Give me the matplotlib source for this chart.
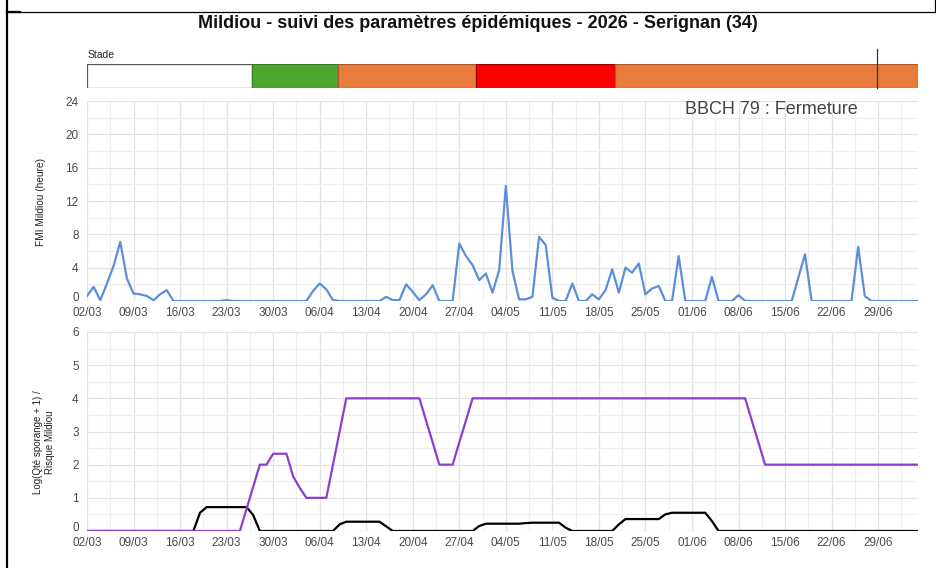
import datetime as dt
import numpy as np
import matplotlib
matplotlib.use("Agg")
import matplotlib.pyplot as plt
from matplotlib.lines import Line2D
from matplotlib.patches import Rectangle

plt.rcParams['font.family'] = ['Liberation Sans', 'DejaVu Sans']

W, H = 936, 568

debut = dt.date(2026, 3, 2)

# FMI Mildiou (heure), un point par jour depuis le 02/03
fmi = [0.6, 1.7, 0.1, 2.1, 4.2, 7.1, 2.7, 0.9, 0.8, 0.6, 0.1, 0.8, 1.3, 0,
       0, 0, 0, 0, 0, 0, 0, 0.1, 0, 0, 0, 0, 0, 0, 0, 0, 0, 0, 0, 0,
       1.2, 2.1, 1.4, 0.1, 0, 0, 0, 0, 0, 0, 0,
       0.5, 0.1, 0.1, 2.0, 1.1, 0.1, 0.8, 1.9, 0, 0, 0,
       6.9, 5.4, 4.3, 2.5, 3.3, 1.0, 3.7, 13.8, 3.6, 0.2, 0.2, 0.5, 7.7, 6.7, 0.4,
       0, 0, 2.1, 0, 0, 0.8, 0.2, 1.3, 3.8, 1.0,
       4.0, 3.4, 4.5, 0.8, 1.5, 1.8, 0, 0, 5.4, 0,
       0, 0, 0, 2.9, 0, 0, 0, 0.7, 0,
       0, 0, 0, 0, 0, 0, 0,
       2.8, 5.6, 0, 0, 0, 0, 0, 0, 0, 6.5, 0.6,
       0, 0, 0, 0, 0, 0, 0, 0]

# Log(Qte sporange + 1)
sporange = [0] * 17 + [0.55] + [0.72] * 7 + [0.48] + [0] * 12 + \
    [0.2] + [0.28] * 6 + [0.14] + [0] * 13 + \
    [0.15] + [0.22] * 6 + [0.24] + [0.25] * 5 + [0.1] + [0] * 7 + \
    [0.2] + [0.36] * 6 + [0.5] + [0.55] * 6 + [0.3] + [0] * 31

# Risque Mildiou
risque = [0] * 24 + [0.67, 1.33, 2.0, 2.0, 2.33, 2.33, 2.33, 1.65, 1.3] + \
    [1.0] * 4 + [2.0, 3.0] + [4.0] * 12 + [3.33, 2.67] + [2.0] * 3 + \
    [2.67, 3.33] + [4.0] * 42 + [3.33, 2.67] + [2.0] * 24

jours = np.arange(len(fmi))
fin = len(fmi) - 1

# stades phenologiques (jours depuis le 02/03)
stade_debut = [0, 24.8, 37.7, 58.5, 79.4]
stade_fin = [24.8, 37.7, 58.5, 79.4, 125]
stade_couleurs = ['#ffffff', '#4ea72e', '#e97c3b', '#ff0000', '#e97c3b']
stade_bords = ['#555555', '#3b7d24', '#a9592b', '#990000', '#a9592b']
jour_actuel = 118.8

semaines = list(range(0, 120, 7))
semaines_labels = [(debut + dt.timedelta(days=d)).strftime('%d/%m') for d in semaines]


def box(l, t, r, b):
    return [l / W, 1 - b / H, (r - l) / W, (b - t) / H]


def style(ax, ymax, ystep, yminor):
    ax.set_xlim(0, fin)
    ax.set_ylim(0, ymax)
    ax.set_xticks(semaines)
    ax.set_xticklabels(semaines_labels)
    ax.set_xticks(np.arange(3.5, fin, 7), minor=True)
    yt = np.arange(0, ymax + ystep / 2, ystep)
    ax.set_yticks(yt)
    ax.set_yticklabels(['%g' % v for v in yt])
    ax.set_yticks(np.arange(yminor, ymax, ystep), minor=True)
    ax.grid(which='major', color='#e2e2e2', lw=0.9)
    ax.grid(which='minor', color='#efefef', lw=0.8)
    ax.set_axisbelow(True)
    for s in ax.spines.values():
        s.set_visible(False)
    ax.tick_params(which='both', length=0, labelsize=8.5, labelcolor='#4a4a4a')
    ax.tick_params(axis='x', pad=4)
    ax.tick_params(axis='y', pad=6)
    # le "0" pose sur la ligne de base pour ne pas chevaucher les dates
    ax.get_yticklabels()[0].set_va('baseline')


fig = plt.figure(figsize=(W / 100, H / 100), dpi=100)

# cadre de la capture
fig.add_artist(Line2D([6.5 / W, 6.5 / W], [0, 1], transform=fig.transFigure, color='k', lw=1.6))
fig.add_artist(Line2D([6.5 / W, 1], [1 - 12 / H, 1 - 12 / H], transform=fig.transFigure, color='k', lw=0.9))
fig.add_artist(Line2D([6.5 / W, 20 / W], [1 - 12 / H, 1 - 12 / H], transform=fig.transFigure, color='k', lw=1.6))
fig.add_artist(Line2D([935 / W, 935 / W], [1, 1 - 12 / H], transform=fig.transFigure, color='k', lw=0.9))

fig.text(478 / W, 1 - 23 / H, 'Mildiou - suivi des paramètres épidémiques - 2026 - Serignan (34)',
         fontsize=13, weight='bold', ha='center', va='center', color='#111111')

# barre des stades
ax_s = fig.add_axes(box(87, 64, 918, 88))
for d0, d1, c, e in zip(stade_debut, stade_fin, stade_couleurs, stade_bords):
    ax_s.add_patch(Rectangle((d0, 0), d1 - d0, 1, facecolor=c, edgecolor=e, lw=0.9))
ax_s.plot([jour_actuel, jour_actuel], [0, 1.62], color='#333333', lw=0.9, clip_on=False)
ax_s.set_xlim(0, fin)
ax_s.set_ylim(0, 1)
ax_s.axis('off')
fig.text(88 / W, 1 - 55 / H, 'Stade', fontsize=7.5, color='#222222', ha='left', va='center')

# FMI
ax1 = fig.add_axes(box(87, 101, 918, 301))
style(ax1, 24, 4, 2)
ax1.plot(jours, fmi, color='#5b8fd9', lw=1.6)
fig.text(771 / W, 1 - 109 / H, 'BBCH 79 : Fermeture', fontsize=13, color='#444444',
         ha='center', va='center')
fig.text(41 / W, 1 - 202 / H, 'FMI Mildiou (heure)', rotation=90, fontsize=7.3,
         ha='center', va='center', color='#222222')

# sporange / risque
ax2 = fig.add_axes(box(87, 332, 918, 531))
style(ax2, 6, 1, 0.5)
ax2.plot(jours, sporange, color='#000000', lw=1.6)
ax2.plot(jours, risque, color='#8b3fd1', lw=1.6)
fig.text(44 / W, 1 - 442 / H, 'Log(Qté sporange + 1) /\nRisque Mildiou', rotation=90,
         fontsize=7, linespacing=1.3, ha='center', va='center', multialignment='center',
         color='#222222')

fig.savefig('out.png', dpi=100)
